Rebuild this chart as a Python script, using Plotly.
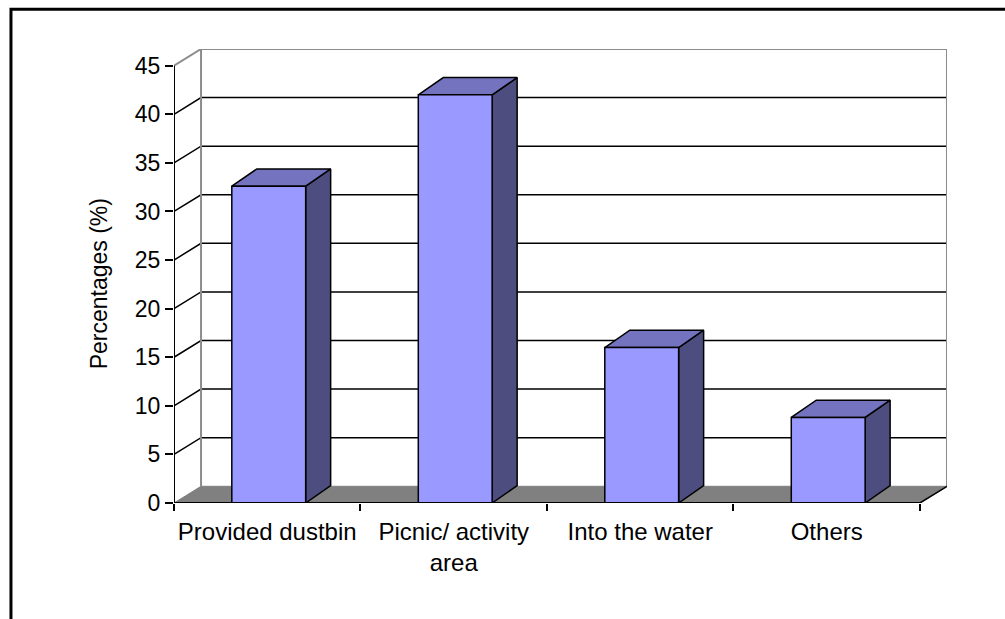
import plotly.graph_objects as go

# Survey: where visitors dispose of their rubbish
categories = ["Provided dustbin", "Picnic/ activity<br>area", "Into the water", "Others"]
percentages = [32.6, 42.0, 16.0, 8.8]
y_ticks = [0, 5, 10, 15, 20, 25, 30, 35, 40, 45]
y_title = "Percentages (%)"

# Oblique projection of the depth axis, in data units
WALL_DX, WALL_DY = 0.145, 1.72   # floor / back wall offset
BAR_DX, BAR_DY = 0.134, 1.78     # bar depth offset
BAR_HALF = 0.198                 # half width of a bar's front face
BAR_SHIFT = 0.008

n = len(categories)
y_max = y_ticks[-1]
x_end = n + WALL_DX
y_end = y_max + WALL_DY

FONT = "Liberation Sans"
FRONT = "#9999FF"
TOP = "#7373BF"
SIDE = "#4D4D80"
WALL = "#8c8c8c"
FLOOR = "#808080"

fig = go.Figure()


def poly(xs, ys, fill, line_color="black", width=1.5, closed=True):
    if closed:
        xs = list(xs) + [xs[0]]
        ys = list(ys) + [ys[0]]
    fig.add_trace(go.Scatter(
        x=xs, y=ys, mode="lines",
        fill="toself" if fill else None,
        fillcolor=fill,
        line=dict(color=line_color, width=width),
        hoverinfo="skip", showlegend=False,
    ))


# floor
poly([0, n, n + WALL_DX, WALL_DX], [0, 0, WALL_DY, WALL_DY], FLOOR, line_color=FLOOR, width=1)

# gridlines on the side wall and back wall
for v in y_ticks[1:-1]:
    poly([0, WALL_DX, n + WALL_DX], [v, v + WALL_DY, v + WALL_DY], None, width=1.5, closed=False)

# back wall frame and side wall top edge
poly([WALL_DX, WALL_DX, n + WALL_DX, n + WALL_DX],
     [WALL_DY, y_end, y_end, WALL_DY], None, line_color=WALL, width=2, closed=False)
poly([0, WALL_DX], [y_max, y_end], None, line_color=WALL, width=2, closed=False)

# floor right edge
poly([n, n + WALL_DX], [0, WALL_DY], None, width=1.5, closed=False)

# 3-D columns
for i, v in enumerate(percentages):
    c = i + 0.5 + BAR_SHIFT
    l, r = c - BAR_HALF, c + BAR_HALF
    poly([r, r + BAR_DX, r + BAR_DX, r], [0, BAR_DY, v + BAR_DY, v], SIDE)
    poly([l, r, r + BAR_DX, l + BAR_DX], [v, v, v + BAR_DY, v + BAR_DY], TOP)
    poly([l, r, r, l], [0, 0, v, v], FRONT)

# front axis lines
poly([0, 0], [0, y_max], None, width=2, closed=False)
poly([0, n], [0, 0], None, width=2, closed=False)

fig.update_layout(
    width=1005, height=619,
    margin=dict(l=174, r=58, t=49, b=116, pad=0),
    paper_bgcolor="white", plot_bgcolor="white",
    font=dict(family=FONT, size=22, color="black"),
    showlegend=False,
    xaxis=dict(
        range=[0, x_end], showgrid=False, zeroline=False, showline=False,
        tickmode="array", tickvals=list(range(n + 1)),
        ticks="outside", ticklen=7, tickwidth=2, tickcolor="black",
        showticklabels=False, fixedrange=True,
    ),
    xaxis2=dict(
        overlaying="x", anchor="y", side="bottom",
        range=[0, x_end], showgrid=False, zeroline=False, showline=False,
        tickmode="array", tickvals=[i + 0.5 for i in range(n)], ticktext=categories,
        ticks="", tickfont=dict(family=FONT, size=24, color="black"),
        ticklabelstandoff=12, fixedrange=True,
    ),
    yaxis=dict(
        range=[0, y_end], showgrid=False, zeroline=False, showline=False,
        tickmode="array", tickvals=y_ticks,
        ticks="outside", ticklen=8, tickwidth=2, tickcolor="black",
        tickfont=dict(family=FONT, size=23, color="black"),
        fixedrange=True,
    ),
    annotations=[dict(
        text=y_title, textangle=-90,
        xref="paper", x=(99 - 174) / 773, xanchor="center",
        yref="y", y=y_max / 2, yanchor="middle",
        showarrow=False, font=dict(family=FONT, size=23, color="black"),
    )],
    shapes=[dict(
        type="path", xref="paper", yref="paper",
        path="M -0.2109 -0.3 L -0.2109 1.0877 L 1.1 1.0877",
        line=dict(color="black", width=3),
    )],
)

# invisible point so the category axis is rendered
fig.add_trace(go.Scatter(x=[0.5], y=[0], xaxis="x2", mode="markers",
                         marker=dict(opacity=0), hoverinfo="skip", showlegend=False))

fig.write_html("out.html")
